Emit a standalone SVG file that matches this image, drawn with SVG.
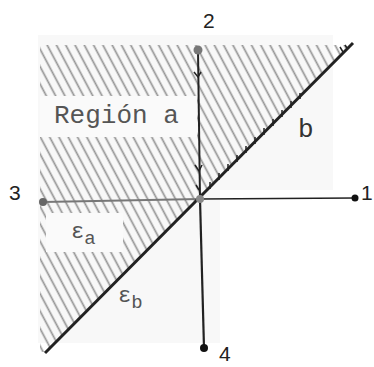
<svg xmlns="http://www.w3.org/2000/svg" width="374" height="367" viewBox="0 0 374 367">
<style>
.num{font-family:"Liberation Sans",Arial,sans-serif;font-size:21px;fill:#222}
.lab{font-family:"Liberation Mono","Courier New",monospace;fill:#555}
.dark{stroke:#222;fill:none}
.gray{stroke:#777;fill:none}
</style>
<defs>
<pattern id="hatch" patternUnits="userSpaceOnUse" width="8.2" height="12" patternTransform="rotate(-28)">
<line x1="4.1" y1="0" x2="4.1" y2="12" stroke="#959595" stroke-width="1.7"/>
</pattern>
<clipPath id="reg"><polygon points="40,45 349,45 45,352 40,352"/></clipPath>
</defs>
<rect width="374" height="367" fill="#fff"/>
<g id="background">
<rect x="38" y="35" width="295" height="155" fill="#f8f8f8"/>
<rect x="38" y="190" width="182" height="153" fill="#f8f8f8"/>
</g>
<g id="hatching">
<rect x="0" y="0" width="374" height="367" fill="url(#hatch)" clip-path="url(#reg)"/>
<rect x="40" y="96" width="157" height="41" fill="#fafafa"/>
<rect x="46" y="213" width="77" height="39" fill="#fafafa"/>
</g>
<g id="connectors">
<line class="gray" x1="43" y1="202" x2="200" y2="199" stroke-width="2.2"/>
<line class="dark" x1="200" y1="199" x2="355" y2="198" stroke-width="1.6"/>
<line class="dark" x1="198" y1="50" x2="200" y2="199" stroke-width="2"/>
<line class="dark" x1="200" y1="199" x2="204" y2="348" stroke-width="2.2"/>
<line class="dark" x1="45" y1="353" x2="353" y2="43" stroke-width="3"/>
<g class="dark" stroke-width="1.5">
<path d="M210,189 v-7 M219,180 v-7 M228,171 v-7 M237,162 v-7 M246,153 v-7 M255,144 v-7 M264,135 v-7 M273,126 v-7 M282,117 v-7 M291,108 v-7 M300,99 v-6"/>
<path d="M194,72 l4,5 l3,-5 M195,165 l4,6 l3,-6 M196,185 l3,5"/>
<path d="M343,52 l-3,-5 M347,48 l-2,-3"/>
</g>
</g>
<g id="node-2"><circle cx="198" cy="50" r="4.5" fill="#777"/><text class="num" x="203" y="28">2</text></g>
<g id="node-3"><circle cx="43" cy="202" r="4" fill="#666"/><text class="num" x="9" y="200">3</text></g>
<g id="node-center"><circle cx="200" cy="199" r="4" fill="#888"/></g>
<g id="node-1"><circle cx="355" cy="198" r="3.5" fill="#111"/><text class="num" x="361" y="200">1</text></g>
<g id="node-4"><circle cx="204" cy="348" r="4" fill="#111"/><text class="num" x="219" y="361">4</text></g>
<g id="labels">
<text class="lab" x="54" y="123" font-size="26">Región a</text>
<text class="lab" x="298" y="137" font-size="26" style="fill:#333">b</text>
<text class="lab" x="71" y="238" font-size="22">ε<tspan font-size="19" dy="6">a</tspan></text>
<text class="lab" x="118" y="302" font-size="22">ε<tspan font-size="19" dy="6">b</tspan></text>
</g>
</svg>
